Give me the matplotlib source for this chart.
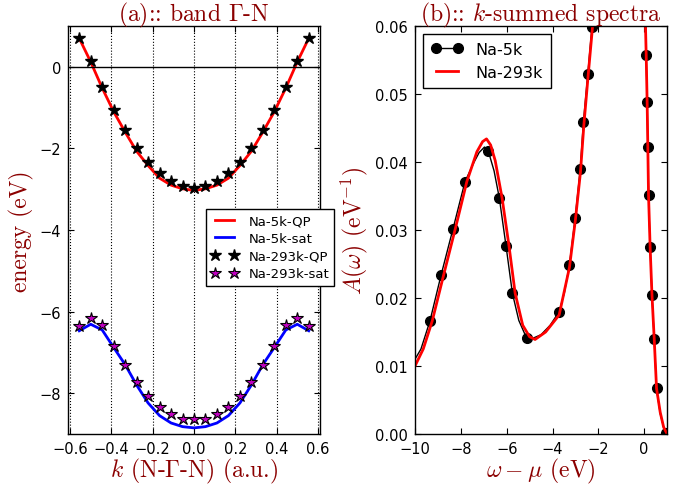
import matplotlib
matplotlib.use("Agg")
import matplotlib.pyplot as plt
import numpy as np

plt.rcParams['mathtext.fontset'] = 'cm'
plt.rcParams['axes.unicode_minus'] = True

# ---- panel (a): band along N-Gamma-N ----
k_left = [-10/18, -9/18, -8/18, -7/18, -6/18, -5/18, -4/18, -3/18, -2/18, -1/18, 0.0]
k = [*k_left, *[-v for v in k_left[-2::-1]]]

qp_5k_half = [0.70, 0.12, -0.52, -1.10, -1.60, -2.07, -2.42, -2.73, -2.90, -2.99, -3.03]
sat_5k_half = [-6.47, -6.31, -6.45, -6.88, -7.30, -7.80, -8.24, -8.55, -8.73, -8.82, -8.85]
qp_293k_half = [0.70, 0.14, -0.50, -1.07, -1.55, -1.99, -2.33, -2.60, -2.79, -2.92, -2.98]
sat_293k_half = [-6.36, -6.16, -6.34, -6.84, -7.31, -7.73, -8.06, -8.34, -8.52, -8.63, -8.64]

def mirror(half):
    return [*half, *half[-2::-1]]

qp_5k = mirror(qp_5k_half)
sat_5k = mirror(sat_5k_half)
qp_293k = mirror(qp_293k_half)
sat_293k = mirror(sat_293k_half)

# ---- panel (b): k-summed spectral functions ----
omega_5k = [-10.0, -9.74, -9.35, -8.86, -8.34, -7.82, -7.42, -7.20, -6.97, -6.80,
            -6.55, -6.32, -6.03, -5.75, -5.47, -5.13, -4.98, -4.50, -4.10, -3.71,
            -3.48, -3.26, -3.01, -2.79, -2.65, -2.46, -2.28, -2.00, -1.00, -0.20,
            0.00, 0.087, 0.13, 0.16, 0.19, 0.26, 0.34, 0.44, 0.54, 0.70,
            0.85, 0.97]
A_5k = [0.0110, 0.0125, 0.0166, 0.0234, 0.0302, 0.0371, 0.0400, 0.0414, 0.0422, 0.0416,
        0.0387, 0.0347, 0.0277, 0.0207, 0.0167, 0.0141, 0.0139, 0.0146, 0.0160, 0.0180,
        0.0208, 0.0249, 0.0318, 0.0389, 0.0459, 0.0529, 0.0598, 0.0800, 0.2000, 0.3000,
        0.0800, 0.0557, 0.0488, 0.0422, 0.0352, 0.0275, 0.0205, 0.0139, 0.0067, 0.0030,
        0.0010, 0.0002]
# positions of the circle markers along the 5k curve
marks_5k = [2, 3, 4, 5, 9, 11, 12, 13, 15, 19, 21, 22, 23, 24, 25, 26,
            31, 32, 33, 34, 35, 36, 37, 38, 41]

omega_293k = [-10.0, -9.64, -9.25, -8.75, -8.24, -7.74, -7.30, -7.05, -6.88, -6.70,
              -6.50, -6.20, -5.90, -5.63, -5.30, -5.00, -4.76, -4.30, -3.71, -3.26,
              -3.00, -2.78, -2.63, -2.45, -2.25, -2.00, -1.00, -0.20, 0.00, 0.058,
              0.09, 0.13, 0.16, 0.19, 0.26, 0.34, 0.44, 0.54, 0.70, 0.85, 1.00]
A_293k = [0.0100, 0.0125, 0.0166, 0.0234, 0.0302, 0.0371, 0.0415, 0.0430, 0.0434, 0.0425,
          0.0402, 0.0347, 0.0277, 0.0207, 0.0160, 0.0143, 0.0139, 0.0150, 0.0175, 0.0245,
          0.0315, 0.0385, 0.0455, 0.0525, 0.0600, 0.0800, 0.2000, 0.3000, 0.0750, 0.0600,
          0.0555, 0.0488, 0.0422, 0.0352, 0.0275, 0.0205, 0.0139, 0.0067, 0.0032, 0.0010,
          0.0000]

title_color = '#8b0000'
label_fs = 17
tick_fs = 10.5

fig = plt.figure(figsize=(6.8, 4.85), dpi=100)
fig.patch.set_facecolor('white')

ax1 = fig.add_axes([0.100, 0.1031, 0.3706, 0.8412])
ax2 = fig.add_axes([0.6103, 0.1031, 0.3707, 0.8412])

for ax in (ax1, ax2):
    ax.tick_params(direction='in', top=True, right=True, length=4, width=0.8,
                   labelsize=tick_fs, pad=5)
    for s in ax.spines.values():
        s.set_linewidth(1.0)

# panel (a)
ax1.plot(k, qp_5k, color='red', lw=2, label='Na-5k-QP')
ax1.plot(k, sat_5k, color='blue', lw=2, label='Na-5k-sat')
ax1.plot(k, qp_293k, ls='none', marker='*', ms=9, color='black', mec='black',
         label='Na-293k-QP')
ax1.plot(k, sat_293k, ls='none', marker='*', ms=9, color='#c000c0', mec='black',
         mew=0.8, label='Na-293k-sat')
ax1.axhline(0, color='black', lw=1)
ax1.set_xlim(-0.61, 0.61)
ax1.set_ylim(-9, 1)
ax1.set_xticks(np.arange(-0.6, 0.61, 0.2))
ax1.set_yticks([-8, -6, -4, -2, 0])
ax1.xaxis.grid(True, color='black', ls=':', lw=0.8)
ax1.set_title(r'(a):: band $\Gamma$-N', fontfamily='cmr10', color=title_color,
              fontsize=label_fs, pad=4)
ax1.set_ylabel('energy (eV)', fontfamily='cmr10', color=title_color,
               fontsize=label_fs, labelpad=4)
ax1.set_xlabel(r'$k$ (N-$\Gamma$-N) (a.u.)', fontfamily='cmr10', color=title_color,
               fontsize=label_fs, labelpad=0)
leg1 = ax1.legend(loc='upper left', bbox_to_anchor=(0.548, 0.551), borderaxespad=0,
                  numpoints=2, fontsize=9.5, fancybox=False, framealpha=1,
                  edgecolor='black', handlelength=2.0, borderpad=0.4,
                  labelspacing=0.35)
leg1.get_frame().set_linewidth(1.0)

# panel (b)
ax2.plot(omega_5k, A_5k, color='black', lw=1, marker='o', ms=7,
         markevery=marks_5k, label='Na-5k')
ax2.plot(omega_293k, A_293k, color='red', lw=2, label='Na-293k')
ax2.set_xlim(-10, 1)
ax2.set_ylim(0, 0.06)
ax2.set_xticks([-10, -8, -6, -4, -2, 0])
ax2.set_yticks(np.arange(0, 0.061, 0.01))
ax2.yaxis.set_major_formatter(matplotlib.ticker.FormatStrFormatter('%.2f'))
ax2.set_title(r'(b):: $k$-summed spectra', fontfamily='cmr10', color=title_color,
              fontsize=label_fs, pad=4)
ax2.set_ylabel(r'$A(\omega)$ (eV$^{-1}$)', fontfamily='cmr10', color=title_color,
               fontsize=label_fs, labelpad=4)
ax2.set_xlabel(r'$\omega-\mu$ (eV)', fontfamily='cmr10', color=title_color,
               fontsize=label_fs, labelpad=0)
leg2 = ax2.legend(loc='upper left', numpoints=2, fontsize=11.5, fancybox=False,
                  framealpha=1, edgecolor='black', borderaxespad=0.5,
                  borderpad=0.5, labelspacing=0.5, handlelength=2.0,
                  handletextpad=0.8)
leg2.get_frame().set_linewidth(1.0)

fig.savefig('out.png', dpi=100, facecolor='white')
